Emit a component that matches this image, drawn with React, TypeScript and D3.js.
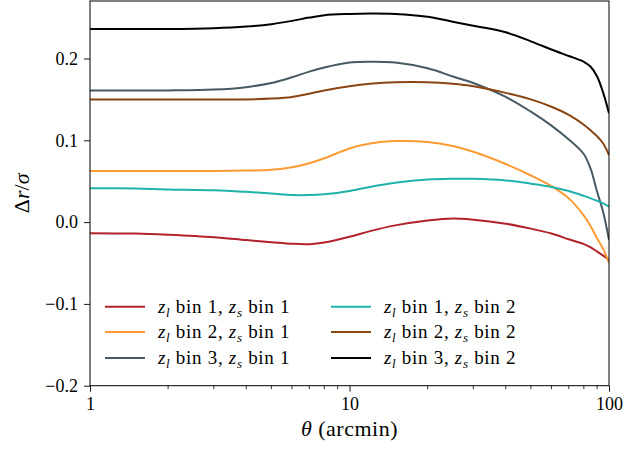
import React, { useRef, useEffect } from 'react';
import * as d3 from 'd3';

// angular separation grid (arcmin)
const theta = [1, 1.5, 2, 3, 4, 5, 6, 7, 8, 10, 12, 15, 20, 25, 30, 40, 50, 60, 70, 80, 85, 90, 95, 100];

// Δr/σ curves
const l1s1 = [-0.0135, -0.014, -0.0155, -0.0185, -0.022, -0.0245, -0.0265, -0.027, -0.025, -0.018, -0.011, -0.004, 0.002, 0.0045, 0.003, -0.002, -0.008, -0.014, -0.021, -0.027, -0.031, -0.036, -0.041, -0.046];
const l2s1 = [0.0625, 0.0625, 0.0625, 0.0625, 0.063, 0.064, 0.067, 0.072, 0.078, 0.09, 0.096, 0.099, 0.098, 0.093, 0.086, 0.071, 0.057, 0.044, 0.029, 0.008, -0.005, -0.02, -0.033, -0.05];
const l3s1 = [0.161, 0.161, 0.161, 0.162, 0.165, 0.17, 0.177, 0.184, 0.189, 0.195, 0.196, 0.195, 0.188, 0.178, 0.17, 0.153, 0.135, 0.118, 0.101, 0.083, 0.065, 0.037, 0.012, -0.022];
const l1s2 = [0.0415, 0.041, 0.04, 0.039, 0.037, 0.035, 0.033, 0.033, 0.034, 0.038, 0.043, 0.048, 0.052, 0.053, 0.053, 0.051, 0.047, 0.043, 0.038, 0.032, 0.029, 0.026, 0.023, 0.019];
const l2s2 = [0.15, 0.15, 0.15, 0.15, 0.15, 0.151, 0.153, 0.157, 0.161, 0.166, 0.169, 0.171, 0.171, 0.169, 0.166, 0.158, 0.15, 0.141, 0.131, 0.119, 0.112, 0.105, 0.096, 0.082];
const l3s2 = [0.236, 0.236, 0.236, 0.237, 0.239, 0.242, 0.246, 0.25, 0.253, 0.2545, 0.255, 0.2545, 0.251, 0.245, 0.24, 0.232, 0.221, 0.211, 0.203, 0.196, 0.19, 0.178, 0.158, 0.133];

const seriesValues = [l1s1, l2s1, l3s1, l1s2, l2s2, l3s2];
const lensBins = ['1', '2', '3', '1', '2', '3'];
const sourceBins = ['1', '1', '1', '2', '2', '2'];
const colors = ['#b22229', '#ff9a33', '#475a64', '#20b2aa', '#8b4513', '#000000'];

const yTicks = [-0.2, -0.1, 0.0, 0.1, 0.2];
const xTicks = [1, 10, 100];

const W = 640;
const H = 449;
const FONT = '"Liberation Serif", serif';

const App = () => {
  const svgRef = useRef<SVGSVGElement>(null);

  useEffect(() => {
    const svg = d3.select(svgRef.current);
    svg.selectAll('*').remove();

    const margin = { top: 1, right: 31, bottom: 63.3, left: 90 };
    const x = d3.scaleLog().domain([1, 100]).range([margin.left, W - margin.right]);
    const y = d3.scaleLinear().domain([-0.2, 0.2703]).range([H - margin.bottom, margin.top]);

    const clip = svg.append('clipPath').attr('id', 'plotclip');
    clip.append('rect')
      .attr('x', margin.left).attr('y', margin.top)
      .attr('width', W - margin.left - margin.right)
      .attr('height', H - margin.top - margin.bottom);

    // curves
    const line = d3.line<number>()
      .x((_, i) => x(theta[i]))
      .y(d => y(d))
      .curve(d3.curveCatmullRom.alpha(0.5));

    svg.append('g').attr('clip-path', 'url(#plotclip)')
      .selectAll('path')
      .data(seriesValues)
      .enter()
      .append('path')
      .attr('d', d => line(d))
      .attr('fill', 'none')
      .attr('stroke', (_, i) => colors[i])
      .attr('stroke-width', 2);

    // x axis (log, with minor ticks)
    const xAxis = d3.axisBottom(x)
      .tickValues(xTicks)
      .tickFormat(d => String(d))
      .tickSize(6)
      .tickPadding(6);
    const gx = svg.append('g')
      .attr('transform', `translate(0,${H - margin.bottom})`)
      .call(xAxis);
    gx.select('.domain').remove();

    const minor: number[] = [];
    [1, 10].forEach(dec => {
      for (let k = 2; k <= 9; k++) minor.push(dec * k);
    });
    gx.selectAll('.minor')
      .data(minor)
      .enter()
      .append('line')
      .attr('x1', d => x(d)).attr('x2', d => x(d))
      .attr('y1', 0).attr('y2', 3.5)
      .attr('stroke', '#000')
      .attr('stroke-width', 0.8);

    // y axis
    const yAxis = d3.axisLeft(y)
      .tickValues(yTicks)
      .tickFormat(d => d3.format('.1f')(d as number).replace('-', '\u2212'))
      .tickSize(6)
      .tickPadding(6);
    const gy = svg.append('g')
      .attr('transform', `translate(${margin.left},0)`)
      .call(yAxis);
    gy.select('.domain').remove();

    [gx, gy].forEach(g => {
      g.selectAll('text')
        .style('font-family', FONT)
        .style('font-size', '18px')
        .attr('fill', '#000');
      g.selectAll('.tick line').attr('stroke', '#000').attr('stroke-width', 0.9);
    });

    // frame
    svg.append('rect')
      .attr('x', margin.left).attr('y', margin.top)
      .attr('width', W - margin.left - margin.right)
      .attr('height', H - margin.top - margin.bottom)
      .attr('fill', 'none')
      .attr('stroke', '#000')
      .attr('stroke-width', 1);

    // axis labels
    const xl = svg.append('text')
      .attr('x', (margin.left + W - margin.right) / 2)
      .attr('y', 436)
      .attr('text-anchor', 'middle')
      .style('font-family', FONT)
      .style('font-size', '22px')
      .style('letter-spacing', '0.5px');
    xl.append('tspan').attr('font-style', 'italic').text('θ');
    xl.append('tspan').text(' (arcmin)');

    const yl = svg.append('text')
      .attr('transform', `translate(29,${(margin.top + H - margin.bottom) / 2}) rotate(-90)`)
      .attr('text-anchor', 'middle')
      .style('font-family', FONT)
      .style('font-size', '22px');
    yl.append('tspan').text('Δ');
    yl.append('tspan').attr('font-style', 'italic').text('r');
    yl.append('tspan').text('/');
    yl.append('tspan').attr('font-style', 'italic').text('σ');

    // legend, two columns
    const rowY = [306.7, 332, 358];
    const colX = [105, 331];
    seriesValues.forEach((_, i) => {
      const col = Math.floor(i / 3);
      const row = i % 3;
      const lx = colX[col];
      const ly = rowY[row];
      svg.append('line')
        .attr('x1', lx).attr('x2', lx + 40)
        .attr('y1', ly).attr('y2', ly)
        .attr('stroke', colors[i])
        .attr('stroke-width', 2);
      const t = svg.append('text')
        .attr('x', lx + 53)
        .attr('y', ly + 6)
        .style('font-family', FONT)
        .style('font-size', '19px')
        .style('letter-spacing', '0.7px');
      t.append('tspan').attr('font-style', 'italic').text('z');
      t.append('tspan').attr('font-style', 'italic').style('font-size', '13px').attr('dy', 4).text('l');
      t.append('tspan').attr('dy', -4).text(` bin ${lensBins[i]}, `);
      t.append('tspan').attr('font-style', 'italic').text('z');
      t.append('tspan').attr('font-style', 'italic').style('font-size', '13px').attr('dy', 4).text('s');
      t.append('tspan').attr('dy', -4).text(` bin ${sourceBins[i]}`);
    });
  }, []);

  return (
    <div style={{ width: `${W}px`, height: `${H}px` }}>
      <svg
        ref={svgRef}
        width={W}
        height={H}
        style={{ position: 'absolute', left: 0, top: 0, background: '#fff' }}
      />
    </div>
  );
};

export default App;
